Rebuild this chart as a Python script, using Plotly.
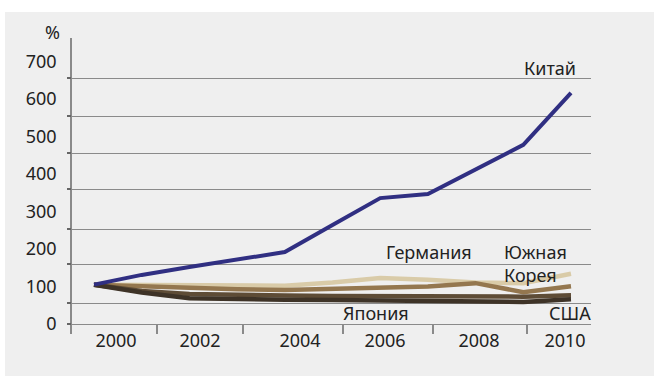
import plotly.graph_objects as go

years = [2000, 2001, 2002, 2003, 2004, 2005, 2006, 2007, 2008, 2009, 2010]
china = [105, 131, 152, 171, 192, 264, 336, 347, 414, 478, 617]
germany = [105, 104, 103, 102, 102, 111, 123, 118, 111, 109, 134]
korea = [105, 100, 96, 93, 91, 93, 96, 100, 109, 85, 101]
usa = [105, 88, 80, 77, 76, 75, 75, 75, 74, 73, 77]
japan = [105, 84, 69, 66, 65, 64, 63, 62, 60, 59, 66]

x_labels = ["2000", "2002", "2004", "2006", "2008", "2010"]
y_labels = ["0", "100", "200", "300", "400", "500", "600", "700"]
series_names = ["Китай", "Германия", "Южная<br>Корея", "Япония", "США"]

# ---- layout geometry (pixels) ----
W, H = 654, 376
L, R, T, B = 72, 591, 38, 334
PX_PER_YEAR = 47.7
X0_PIX = 94.0
PX_PER_UNIT = 0.3747
Y0_PIX = 324.0

def xd(px):
    return 2000 + (px - X0_PIX) / PX_PER_YEAR

def yd(py):
    return (Y0_PIX - py) / PX_PER_UNIT

def xp(px):
    return (px - L) / (R - L)

def yp(py):
    return (B - py) / (B - T)

xr = [xd(L), xd(R)]
yr = [yd(B), yd(T)]

label_px = [116, 200, 300, 385, 479, 565]
tickmark_px = [157, 243, 343, 433, 527]
grid_py = [324, 303, 264, 229, 189, 153, 116, 78]

fig = go.Figure()
colors = {"germany": "#d9cba8", "korea": "#94774f", "usa": "#5e4c36", "japan": "#3e3327", "china": "#302f82"}
fig.add_trace(go.Scatter(x=years, y=germany, mode="lines", line=dict(color=colors["germany"], width=4.5)))
fig.add_trace(go.Scatter(x=years, y=korea, mode="lines", line=dict(color=colors["korea"], width=4.5)))
fig.add_trace(go.Scatter(x=years, y=usa, mode="lines", line=dict(color=colors["usa"], width=4.5)))
fig.add_trace(go.Scatter(x=years, y=japan, mode="lines", line=dict(color=colors["japan"], width=4.5)))
fig.add_trace(go.Scatter(x=years, y=china, mode="lines", line=dict(color=colors["china"], width=4)))
fig.add_trace(go.Scatter(x=[xr[0]], y=[yr[0]], xaxis="x2", yaxis="y2", mode="markers",
                         marker=dict(opacity=0), hoverinfo="skip"))

font = dict(family="Noto Sans, Open Sans, sans-serif", size=18, color="#222222")

fig.update_layout(
    width=W, height=H,
    margin=dict(l=L, r=W - R, t=T, b=H - B, autoexpand=False),
    paper_bgcolor="#efefef", plot_bgcolor="rgba(0,0,0,0)",
    showlegend=False,
    font=font,
    xaxis=dict(range=xr, tickvals=[xd(p) for p in label_px], ticktext=x_labels,
               ticks="", showgrid=False, zeroline=False, showline=False,
               tickfont=font, ticklabelstandoff=-6),
    xaxis2=dict(range=xr, overlaying="x", anchor="y", tickvals=[xd(p) for p in tickmark_px],
                ticks="inside", ticklen=10, tickwidth=1.5, tickcolor="#8a8a8a",
                showticklabels=False, showgrid=False, zeroline=False, showline=False, side="bottom"),
    yaxis=dict(range=yr, tickvals=[0, 100, 200, 300, 400, 500, 600, 700], ticktext=y_labels,
               ticks="", showgrid=False, zeroline=False, showline=True, linecolor="#8a8a8a",
               linewidth=1.5, tickfont=font, ticklabelstandoff=10),
    yaxis2=dict(range=yr, overlaying="y", anchor="x", side="left",
                tickvals=[yd(p) for p in grid_py], ticks="outside", ticklen=4, tickwidth=1.5,
                tickcolor="#666666", showticklabels=False, showgrid=True, gridcolor="#8a8a8a",
                gridwidth=1, zeroline=False, showline=False),
    shapes=[
        dict(type="rect", xref="paper", yref="paper", x0=xp(0), x1=xp(W),
             y0=yp(12), y1=yp(0), fillcolor="white", line_width=0, layer="below"),
        dict(type="rect", xref="paper", yref="paper", x0=xp(0), x1=xp(5),
             y0=yp(H), y1=yp(0), fillcolor="white", line_width=0, layer="below"),
    ],
)

def ann(text, px, py, xanchor="left"):
    fig.add_annotation(text=text, x=xp(px), y=yp(py), xref="paper", yref="paper", showarrow=False,
                       xanchor=xanchor, yanchor="middle", font=font, align="left")

ann(series_names[0], 522, 68)
ann(series_names[1], 384, 252)
ann(series_names[2], 502, 263)
ann(series_names[3], 341, 313)
ann(series_names[4], 547, 313)
ann("%", 62, 32, xanchor="right")

fig.write_html("out.html", config={"displayModeBar": False},
               post_script="document.body.style.margin='0px';")
